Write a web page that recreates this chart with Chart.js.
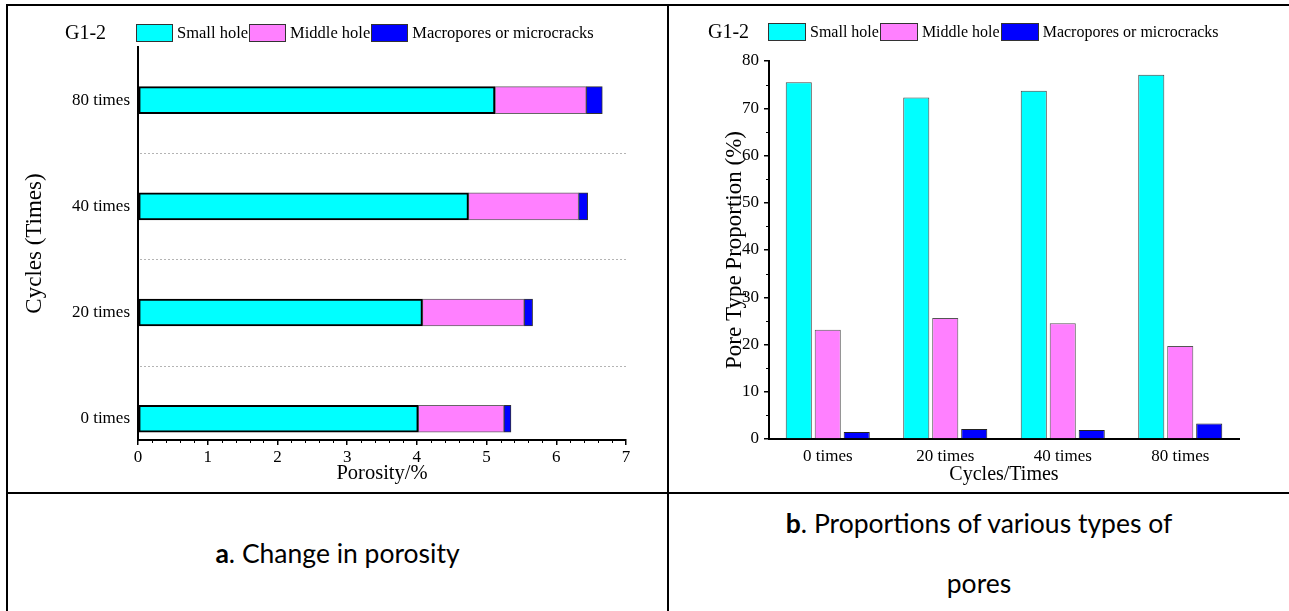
<!DOCTYPE html>
<html>
<head>
<meta charset="utf-8">
<script src="https://cdn.jsdelivr.net/npm/chart.js@4.4.1/dist/chart.umd.min.js"></script>
<style>
    body { margin: 0; width: 1289px; height: 611px; overflow: hidden; background: #fff; position: relative; }
    .line { position: absolute; background: #000; }
    .panel { position: absolute; }
    .legend { position: absolute; display: flex; align-items: center; font-family: "Liberation Serif", "Times New Roman", serif; color: #000; white-space: nowrap; }
    .legend .tag { font-size: 20px; }
    .legend .box { height: 18px; border: 1px solid #333; box-sizing: border-box; margin-left: 1px; }
    .legend .txt { margin-left: 4px; }
    .caption { position: absolute; top: 494px; height: 117px; display: flex; align-items: center; justify-content: center; text-align: center; font-family: Lato, "Open Sans", sans-serif; font-size: 26.5px; color: #000; }
</style>
</head>
<body>
<div class="line" style="left:6px; top:4px; width:1283px; height:2px;"></div>
<div class="line" style="left:6px; top:4px; width:2px; height:607px;"></div>
<div class="line" style="left:667px; top:4px; width:2px; height:607px;"></div>
<div class="line" style="left:6px; top:492px; width:1283px; height:2px;"></div>

<div class="panel" style="left:8px; top:7px; width:658px; height:485px;"><canvas id="porosityChart"></canvas></div>
<div class="panel" style="left:670px; top:7px; width:617px; height:485px;"><canvas id="shareChart"></canvas></div>

<div class="legend" id="legendA" style="left:65px; top:21px; font-size:16.5px;"></div>
<div class="legend" id="legendB" style="left:708px; top:20px; font-size:16px;"></div>

<div class="caption" style="left:8px; width:659px; line-height:30px;"><span><b>a</b>. Change in porosity</span></div>
<div class="caption" style="left:669px; width:620px; line-height:60px;"><span><b>b</b>. Proportions of various types of<br>pores</span></div>

<script>
// Data
const cycleLabels = ['0 times', '20 times', '40 times', '80 times'];
const seriesNames = ['Small hole', 'Middle hole', 'Macropores or microcracks'];
const seriesColors = ['#00FFFF', '#FF80FF', '#0000FF'];

// a. porosity (%) per pore type, stacked
const porositySmall = [4.02, 4.08, 4.74, 5.12];
const porosityMiddle = [1.23, 1.46, 1.58, 1.31];
const porosityMacro = [0.10, 0.12, 0.13, 0.23];

// b. pore type proportion (%)
const shareSmall = [75.5, 72.3, 73.7, 77.1];
const shareMiddle = [23.1, 25.6, 24.5, 19.7];
const shareMacro = [1.5, 2.1, 1.9, 3.3];

Chart.defaults.font.family = '"Liberation Serif", "Times New Roman", serif';
Chart.defaults.font.size = 17;
Chart.defaults.color = '#000';
Chart.defaults.animation = false;

function buildLegend(id, tagWidth, boxWidth) {
    const el = document.getElementById(id);
    let html = `<span class="tag" style="width:${tagWidth}px">G1-2</span>`;
    seriesNames.forEach((name, i) => {
        html += `<span class="box" style="width:${boxWidth}px;background:${seriesColors[i]}"></span><span class="txt">${name}</span>`;
    });
    el.innerHTML = html;
}
buildLegend('legendA', 70, 37);
buildLegend('legendB', 59, 38);

// short minor ticks drawn outside the axis line
function minorTicks(axisId, values, length) {
    return {
        id: 'minor_' + axisId,
        afterDraw(chart) {
            const scale = chart.scales[axisId];
            const ctx = chart.ctx;
            const area = chart.chartArea;
            ctx.save();
            ctx.strokeStyle = '#000';
            ctx.lineWidth = 1;
            ctx.beginPath();
            values.forEach(v => {
                const p = Math.round(scale.getPixelForValue(v)) + 0.5;
                if (scale.isHorizontal()) {
                    ctx.moveTo(p, area.bottom);
                    ctx.lineTo(p, area.bottom + length);
                } else {
                    ctx.moveTo(area.left, p);
                    ctx.lineTo(area.left - length, p);
                }
            });
            ctx.stroke();
            ctx.restore();
        }
    };
}

// dotted separators between the cycle rows of chart a
const rowSeparators = {
    id: 'rowSeparators',
    beforeDatasetsDraw(chart) {
        const y = chart.scales.y;
        const area = chart.chartArea;
        const ctx = chart.ctx;
        ctx.save();
        ctx.strokeStyle = '#b4b4b4';
        ctx.lineWidth = 1;
        ctx.setLineDash([2, 2]);
        ctx.beginPath();
        [0.5, 1.5, 2.5].forEach(v => {
            const p = Math.round(y.getPixelForValue(v)) + 0.5;
            ctx.moveTo(area.left + 2, p);
            ctx.lineTo(area.right, p);
        });
        ctx.stroke();
        ctx.restore();
    }
};

const porosityMinor = [];
for (let i = 0; i < 7; i++) {
    [0.2, 0.4, 0.6, 0.8].forEach(f => porosityMinor.push(i + f));
}

const toPoints = arr => arr.map((v, i) => ({ x: v, y: i }));

new Chart(document.getElementById('porosityChart'), {
    type: 'bar',
    data: {
        datasets: [
            { label: seriesNames[0], data: toPoints(porositySmall), backgroundColor: seriesColors[0], borderColor: '#000', borderWidth: 2, borderSkipped: false, barThickness: 27 },
            { label: seriesNames[1], data: toPoints(porosityMiddle), backgroundColor: seriesColors[1], borderColor: '#666', borderWidth: 1, borderSkipped: false, barThickness: 27 },
            { label: seriesNames[2], data: toPoints(porosityMacro), backgroundColor: seriesColors[2], borderColor: '#333', borderWidth: 1, borderSkipped: false, barThickness: 27 }
        ]
    },
    options: {
        indexAxis: 'y',
        responsive: true,
        maintainAspectRatio: false,
        devicePixelRatio: 1,
        layout: { padding: { top: 40, right: 40, left: 0, bottom: 0 } },
        plugins: { legend: { display: false }, tooltip: { enabled: false } },
        scales: {
            x: {
                type: 'linear',
                stacked: true,
                min: 0,
                max: 7,
                ticks: { stepSize: 1, padding: 2 },
                grid: { display: true, drawOnChartArea: false, drawTicks: true, tickLength: 5, color: '#000', lineWidth: 1.5 },
                border: { display: true, color: '#000', width: 2 },
                title: { display: true, text: 'Porosity/%', font: { size: 20.5 }, padding: { bottom: 6 } },
                afterFit: s => { s.height = 52; }
            },
            y: {
                type: 'linear',
                stacked: true,
                offset: false,
                min: -0.2,
                max: 3.5,
                afterBuildTicks: s => { s.ticks = cycleLabels.map((_, i) => ({ value: i })); },
                ticks: { padding: 8, callback: v => cycleLabels[v] },
                grid: { display: false, drawTicks: false, offset: false },
                border: { display: true, color: '#000', width: 2 },
                title: { display: true, text: 'Cycles (Times)', font: { size: 23 }, padding: { top: 13 } },
                afterFit: s => { s.width = 130; }
            }
        }
    },
    plugins: [rowSeparators, minorTicks('x', porosityMinor, 3)]
});

new Chart(document.getElementById('shareChart'), {
    type: 'bar',
    data: {
        labels: cycleLabels,
        datasets: [
            { label: seriesNames[0], data: shareSmall, backgroundColor: seriesColors[0], borderColor: '#444', borderWidth: 1, borderSkipped: 'bottom' },
            { label: seriesNames[1], data: shareMiddle, backgroundColor: seriesColors[1], borderColor: '#555', borderWidth: 1, borderSkipped: 'bottom' },
            { label: seriesNames[2], data: shareMacro, backgroundColor: seriesColors[2], borderColor: '#222', borderWidth: 1, borderSkipped: 'bottom' }
        ]
    },
    options: {
        responsive: true,
        maintainAspectRatio: false,
        devicePixelRatio: 1,
        categoryPercentage: 0.74,
        barPercentage: 0.9,
        layout: { padding: { top: 54, right: 48, left: 0, bottom: 0 } },
        plugins: { legend: { display: false }, tooltip: { enabled: false } },
        scales: {
            x: {
                ticks: { padding: 7 },
                grid: { display: false, drawTicks: false },
                border: { display: true, color: '#000', width: 2 },
                title: { display: true, text: 'Cycles/Times', font: { size: 20 }, padding: { bottom: 5 } },
                afterFit: s => { s.height = 53; }
            },
            y: {
                min: 0,
                max: 80,
                ticks: { stepSize: 10, padding: 5 },
                grid: { display: true, drawOnChartArea: false, drawTicks: true, tickLength: 5, color: '#000', lineWidth: 1.5 },
                border: { display: true, color: '#000', width: 2 },
                title: { display: true, text: 'Pore Type Proportion (%)', font: { size: 23 }, padding: { top: 51 } },
                afterFit: s => { s.width = 99; }
            }
        }
    },
    plugins: [minorTicks('y', [5, 15, 25, 35, 45, 55, 65, 75], 3)]
});
</script>
</body>
</html>
